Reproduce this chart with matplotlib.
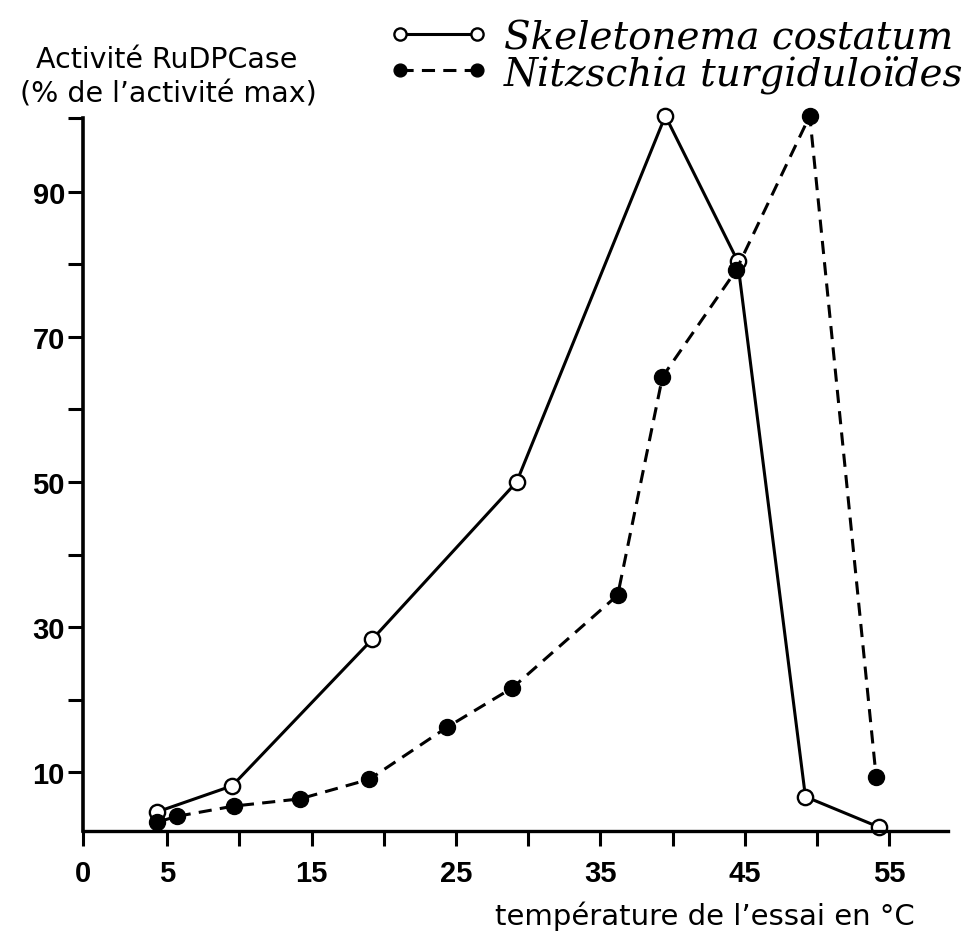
import matplotlib.pyplot as plt

# lectures sur la figure
temp_skel = [4.3, 9.5, 19.2, 29.2, 39.5, 44.5, 49.2, 54.3]
act_skel = [4.5, 8.1, 28.3, 50.0, 100.5, 80.5, 6.6, 2.4]

temp_nitz = [4.3, 5.7, 9.6, 14.2, 19.0, 24.4, 28.9, 36.2, 39.3, 44.4, 49.5, 54.1]
act_nitz = [3.1, 3.9, 5.3, 6.3, 9.0, 16.2, 21.6, 34.4, 64.5, 79.2, 100.5, 9.3]

xtick_pos = [5, 10, 15, 20, 25, 30, 35, 40, 45, 50, 55]
xtick_lab = ['5', '', '15', '', '25', '', '35', '', '45', '', '55']
ytick_pos = [10, 20, 30, 40, 50, 60, 70, 80, 90]
ytick_lab = ['10', '', '30', '', '50', '', '70', '', '90']

x0, x1 = -0.83, 59.1
y0, y1 = 1.86, 100.2

fig = plt.figure(figsize=(9.69, 9.37), dpi=100)
ax = fig.add_axes([0.0857, 0.112, 0.893, 0.761])

ax.plot(temp_skel, act_skel, '-o', color='black', lw=2.2, ms=11,
        mfc='white', mec='black', mew=1.7, clip_on=False,
        label='Skeletonema costatum')
ax.plot(temp_nitz, act_nitz, '--o', color='black', lw=2.2, dashes=(4.3, 2.7),
        ms=11.5, mfc='black', mec='black', clip_on=False,
        label='Nitzschia turgiduloïdes')

ax.set_xlim(x0, x1)
ax.set_ylim(y0, y1)
ax.spines['top'].set_visible(False)
ax.spines['right'].set_visible(False)
ax.spines['left'].set_linewidth(2.6)
ax.spines['bottom'].set_linewidth(2.4)

ax.set_xticks([x0] + xtick_pos, ['0'] + xtick_lab)
ax.set_yticks(ytick_pos + [y1], ytick_lab + [''])
ax.tick_params(axis='x', direction='out', length=11, width=2.2, pad=9, labelsize=21)
ax.tick_params(axis='y', direction='out', length=11, width=2.2, pad=2, labelsize=21)
for t in ax.get_xticklabels() + ax.get_yticklabels():
    t.set_family('Liberation Sans')
    t.set_fontweight('bold')

# titre de l'axe y, en deux lignes
fig.text(167 / 969, 1 - 68 / 937, 'Activité RuDPCase',
         family='DejaVu Sans', fontsize=20.5, ha='center', va='baseline')
fig.text(168 / 969, 1 - 103 / 937, '(% de l’activité max)',
         family='DejaVu Sans', fontsize=20.5, ha='center', va='baseline')

ax.set_xlabel('température de l’essai en °C', family='DejaVu Sans', fontsize=21)
ax.xaxis.set_label_coords(0.719, -0.1304)
ax.xaxis.label.set_va('baseline')

ax.legend(loc='upper left', bbox_to_anchor=(388 / 969, 1 - 20 / 937),
          bbox_transform=fig.transFigure, frameon=False,
          prop=dict(family='DejaVu Serif', style='italic', size=28),
          handlelength=2.6, handletextpad=0.38, labelspacing=-0.05,
          borderpad=0, borderaxespad=0, numpoints=2, markerscale=0.8)

fig.savefig('out.png', dpi=100, facecolor='white')
